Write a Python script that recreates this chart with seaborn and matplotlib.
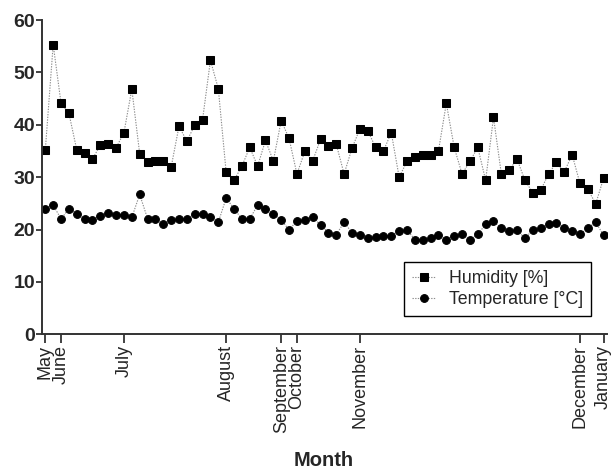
import numpy as np
import pandas as pd
import matplotlib
matplotlib.use("Agg")
import matplotlib.pyplot as plt
import seaborn as sns

humidity = [35.2, 55.3, 44.1, 42.2, 35.2, 34.7, 33.5, 36.1, 36.3, 35.6,
            38.5, 46.8, 34.5, 32.8, 33.0, 33.0, 31.9, 39.7, 36.9, 39.9,
            41.0, 52.3, 46.9, 30.9, 29.4, 32.1, 35.7, 32.1, 37.0, 33.1,
            40.8, 37.4, 30.6, 34.9, 33.1, 37.2, 35.9, 36.3, 30.6, 35.5,
            39.2, 38.9, 35.7, 35.0, 38.5, 30.0, 33.0, 33.8, 34.2, 34.2,
            35.0, 44.1, 35.7, 30.6, 33.0, 35.7, 29.4, 41.4, 30.6, 31.4,
            33.4, 29.4, 27.0, 27.5, 30.6, 32.8, 31.0, 34.3, 28.8, 27.7,
            24.9, 29.8]
temperature = [24.0, 24.7, 22.0, 24.0, 23.0, 22.0, 21.9, 22.6, 23.1, 22.8,
               22.8, 22.3, 26.7, 22.1, 22.0, 21.0, 21.8, 22.0, 22.0, 23.0,
               23.0, 22.3, 21.4, 26.0, 24.0, 22.0, 22.0, 24.7, 24.0, 23.0,
               21.9, 19.9, 21.7, 21.8, 22.3, 20.9, 19.4, 19.0, 21.4, 19.4,
               19.0, 18.3, 18.5, 18.8, 18.8, 19.8, 19.9, 18.1, 18.0, 18.4,
               19.0, 18.1, 18.8, 19.1, 18.1, 19.1, 21.0, 21.6, 20.2, 19.7,
               19.9, 18.3, 20.0, 20.2, 21.0, 21.2, 20.2, 19.7, 19.1, 20.3,
               21.4, 18.9]
sample = list(range(len(humidity)))
month_names = ["May", "June", "July", "August", "September", "October",
               "November", "December", "January"]
month_start = [0, 2, 10, 23, 30, 32, 40, 68, 71]
y_ticks = [0, 10, 20, 30, 40, 50, 60]

sns.set_style("ticks")
plt.rcParams["font.family"] = ["Liberation Sans", "DejaVu Sans"]

fig = plt.figure(figsize=(6.11, 4.73), dpi=100)
ax = fig.add_axes([0.068, 0.2932, 0.925, 0.6645])

spine_c = "#333333"
common = dict(color="#8c8c8c", linewidth=0.8, linestyle=(0, (1.2, 1.2)),
              markerfacecolor="black", markeredgecolor="black", ax=ax)
sns.lineplot(x=sample, y=humidity, marker="s", markersize=5.2,
             label="Humidity [%]", **common)
sns.lineplot(x=sample, y=temperature, marker="o", markersize=5.6,
             label="Temperature [°C]", **common)

ax.set_xlim(-0.48, 71.4)
ax.set_ylim(0, 60)
ax.set_yticks(y_ticks)
ax.set_yticklabels([str(v) for v in y_ticks], fontsize=14, fontweight="bold")
ax.set_xticks(month_start)
ax.set_xticklabels(month_names, rotation=90, fontsize=13.0)
ax.tick_params(axis="y", length=4, width=1.3, color=spine_c, pad=0.5)
ax.tick_params(axis="x", length=6.5, width=1.3, color=spine_c, pad=1)
for s in ["top", "right"]:
    ax.spines[s].set_visible(False)
for s in ["left", "bottom"]:
    ax.spines[s].set_color(spine_c)
    ax.spines[s].set_linewidth(1.4)

ax.set_xlabel("Month", fontsize=14.5, fontweight="bold", labelpad=13.5)
ax.set_ylabel("")

leg = ax.legend(loc="lower right", bbox_to_anchor=(0.972, 0.058),
                fontsize=12.8, frameon=True, fancybox=False, framealpha=1,
                edgecolor="black", handlelength=1.35, handletextpad=0.7,
                borderpad=0.45, labelspacing=0.22, borderaxespad=0)
leg.get_frame().set_linewidth(1.0)

fig.savefig("out.png", dpi=100)
